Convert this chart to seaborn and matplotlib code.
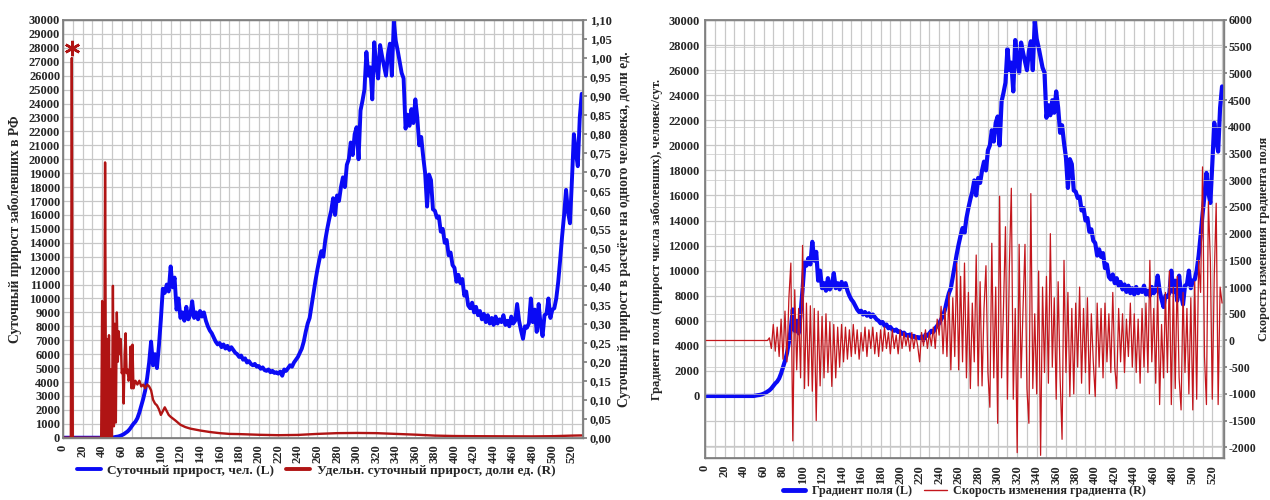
import numpy as np
import pandas as pd
import matplotlib
matplotlib.use("Agg")
import matplotlib.pyplot as plt
import seaborn as sns
from matplotlib.ticker import MultipleLocator, FuncFormatter, FixedLocator
from matplotlib.lines import Line2D

# ---------------- data ----------------
days = list(range(0, 531, 2))

daily_cases = [
    0, 0, 0, 0, 0, 0, 0, 0, 0, 0,
    0, 0, 0, 0, 0, 0, 0, 0, 0, 0,
    0, 0, 0, 0, 0, 0, 30, 60, 80, 120,
    180, 250, 350, 450, 600, 800, 1000, 1150, 1400, 1800,
    2300, 2800, 3400, 4300, 5400, 6900, 5200, 6000, 5000, 6600,
    8500, 10700, 10400, 11000, 10500, 12300, 10800, 11500, 9200, 10000,
    8600, 9000, 8400, 9400, 8500, 8800, 9800, 8600, 9000, 8500,
    9100, 8700, 9000, 8400, 8000, 7700, 7500, 7200, 6900, 6700,
    6800, 6500, 6700, 6400, 6600, 6300, 6500, 6300, 6100, 6000,
    5800, 5900, 5600, 5700, 5400, 5500, 5300, 5200, 5300, 5100,
    5150, 4950, 5050, 4850, 4800, 4900, 4700, 4800, 4650, 4700,
    4600, 4750, 4450, 4900, 4800, 5000, 5200, 5100, 5400, 5600,
    5800, 6100, 6400, 6900, 7600, 8200, 8600, 9500, 10400, 11300,
    12100, 12800, 13400, 13000, 14200, 15000, 15700, 16300, 17200, 16000,
    17400, 17000, 18000, 18700, 18000, 19600, 20000, 21200, 20300, 21800,
    22300, 20000, 23500, 24200, 25000, 27700, 26000, 26600, 24300, 28400,
    26800, 25800, 28200, 27400, 26700, 26000, 27500, 28300, 26000, 29900,
    28500, 27800, 27000, 26200, 25800, 22200, 23200, 22400, 23600, 22600,
    24300, 23000, 21000, 21600, 20200, 19000, 16600, 18900, 18500, 16400,
    16300, 15800, 15900, 14800, 15000, 14000, 14200, 13100, 13300, 12400,
    12200, 11200, 11700, 11100, 11400, 10200, 10500, 9500, 9300, 9700,
    9000, 9400, 8800, 9100, 8500, 8900, 8300, 8800, 8200, 8600,
    8100, 8700, 8200, 8500, 8300, 8800, 8100, 8400, 8000, 8700,
    8200, 8400, 9600, 8400, 7700, 7100, 8000, 7900, 8200, 10000,
    8300, 9200, 7600, 9600, 8100, 7300, 8800, 8900, 10000, 8600,
    9200, 9300, 10000, 11200, 12800, 14500, 16000, 17800, 16200, 15400,
    18500, 21800, 20500, 19500, 23000, 24700,
]

gradient_rate = [
    0, 0, 0, 0, 0, 0, 0, 0, 0, 0,
    0, 0, 0, 0, 0, 0, 0, 0, 0, 0,
    0, 0, 0, 0, 0, 0, 0, 0, 0, 0,
    0, 0, 0, 50, -150, 300, -200, 250, -300, 400,
    -350, 550, -400, 800, 1450, -1880, 950, -550, 600, -700,
    1780, -900, 700, -850, 650, -950, 600, -1500, 550, -850,
    450, -700, 500, -600, 350, -860, 300, -700, 250, -500,
    300, -400, 250, -350, 200, -300, 300, -250, 200, -350,
    150, -200, 250, -300, 200, -150, 250, -250, 150, -300,
    200, -200, 250, -150, 150, -250, 200, -150, 100, -250,
    200, -150, 150, -100, 100, -200, 150, -150, 100, -100,
    -400, 150, -100, 200, -150, 150, -100, 250, -150, 400,
    100, 640, -250, 600, -300, 900, -550, 800, -300, 1450,
    -550, 1200, -400, 1450, -700, 900, -900, 700, -400, 1600,
    -850, 1100, -850, 600, 1400, -600, -1250, 1820, -700, 1000,
    -1550, 2700, -700, 650, 2130, -1100, 1400, 2850, -1100, 600,
    -2100, 1800, -700, 600, 1800, -900, -1550, 2750, -900, 500,
    -1000, 1300, -2150, 1000, -600, 1200, -800, 2000, -500, 800,
    -1100, 1100, -700, -1850, 1500, -600, 900, -1050, 600, -1000,
    700, -500, 1000, -800, 600, -600, 800, -1000, 500, -400,
    -1050, 700, -500, 600, -700, 700, -400, 500, -600, 900,
    -500, -900, 600, -400, 500, -600, 400, -300, 700, -500,
    500, -600, 400, -800, 600, -500, 700, -600, 1500, -400,
    600, -800, 1000, -1200, 300, -700, 900, -600, 1300, -1200,
    1000, -900, 1200, -700, -1300, 900, -600, 600, -1000, 800,
    -1300, 1100, -1100, 1500, 900, 3250, -300, -1200, 2600, 1500,
    -1100, 1200, 2570, -1200, 1000, 700,
]

spec_days = [0, 8, 9, 10,
             39, 40, 41, 42, 43, 44, 45, 46, 47, 48, 49, 50, 51, 52, 53, 54, 55,
             56, 57, 58, 59, 60, 61, 62, 63, 64, 65, 66, 67, 68, 69, 70, 71, 72,
             74, 76, 78, 80, 82, 84, 86, 88, 90, 92, 94, 96, 98, 100, 102, 104,
             106, 108, 110, 115, 120, 125, 130, 140, 150, 160, 170, 180,
             200, 220, 240, 260, 280, 300, 320, 340, 360, 380, 400,
             420, 450, 480, 500, 520, 530]
spec_growth = [0, 0, 1.0, 0,
               0, 0.36, 0, 0, 0.725, 0, 0.26, 0, 0.27, 0, 0.18, 0, 0.40, 0.03, 0.30, 0.04, 0.33,
               0.20, 0.28, 0.22, 0.26, 0.17, 0.18, 0.09, 0.22, 0.275, 0.17, 0.18, 0.15, 0.16, 0.24, 0.13, 0.245, 0.13,
               0.15, 0.14, 0.15, 0.135, 0.14, 0.13, 0.14, 0.135, 0.125, 0.10, 0.09, 0.085, 0.075, 0.06, 0.07, 0.08,
               0.07, 0.06, 0.055, 0.045, 0.034, 0.028, 0.024, 0.019, 0.015, 0.012, 0.010, 0.0095,
               0.0077, 0.0066, 0.0073, 0.010, 0.012, 0.0125, 0.012, 0.010, 0.008, 0.0055, 0.0044,
               0.004, 0.0037, 0.0035, 0.004, 0.0055, 0.006]

star_day = [9]
star_value = [1.026]

left_yticks = list(range(0, 30001, 1000))
left_rticks = [round(0.05 * i, 2) for i in range(23)]
right_yticks = list(range(-4000, 30001, 2000))
right_rticks = list(range(-2000, 6001, 500))
xticks = list(range(0, 521, 20))

assert len(days) == len(daily_cases) == len(gradient_rate)
assert len(spec_days) == len(spec_growth)

# ---------------- style ----------------
sns.set_theme(style="white")
plt.rcParams['font.family'] = ['Liberation Serif', 'DejaVu Serif']
plt.rcParams['font.weight'] = 'bold'
plt.rcParams['axes.labelweight'] = 'bold'
plt.rcParams['axes.unicode_minus'] = False

BLUE = "#0A0AF5"
DRED = "#B01414"
RRED = "#C4161C"
GRID = "#C8C8C8"
SPINE = "#808080"

fig = plt.figure(figsize=(12.7, 5.0), dpi=100)

def style_x(ax, xmax):
    ax.set_xlim(0, xmax)
    ax.xaxis.set_major_locator(FixedLocator(xticks))
    ax.xaxis.set_minor_locator(MultipleLocator(10))
    ax.tick_params(axis='x', which='both', direction='out', length=3, color=SPINE,
                   labelsize=9, labelrotation=90, pad=2)
    ax.grid(True, which='both', axis='x', color=GRID, linewidth=0.9)
    for s in ax.spines.values():
        s.set_color(SPINE)
        s.set_linewidth(1.0)

comma = FuncFormatter(lambda v, p: f"{v:.2f}".replace('.', ','))

# ---------------- left chart ----------------
ax1 = fig.add_axes([63 / 1270, 1 - 437.7 / 500, (582.7 - 63) / 1270, (437.7 - 20) / 500])
ax1r = ax1.twinx()
df1 = pd.DataFrame({"day": days, "cases": daily_cases})
df2 = pd.DataFrame({"day": spec_days, "spec": spec_growth})
sns.lineplot(data=df1, x="day", y="cases", ax=ax1, color=BLUE, linewidth=2.8,
             estimator=None, legend=False)
sns.lineplot(data=df2, x="day", y="spec", ax=ax1r, color=DRED, linewidth=1.7,
             estimator=None, legend=False)
ax1r.plot(star_day, star_value, marker=(6, 2, 0), markersize=11, mew=1.8,
          color=DRED, linestyle='none')
style_x(ax1, 531)
ax1.set_ylim(0, 30000)
ax1.yaxis.set_major_locator(FixedLocator(left_yticks))
ax1.tick_params(axis='y', labelsize=9, length=0, pad=2)
ax1.grid(True, which='major', axis='y', color=GRID, linewidth=0.9)
ax1r.set_ylim(0, 1.10)
ax1r.yaxis.set_major_locator(FixedLocator(left_rticks))
ax1r.yaxis.set_major_formatter(comma)
ax1r.tick_params(axis='y', labelsize=9, direction='out', length=3, color=SPINE, pad=2)
ax1r.grid(False)
for s in ax1r.spines.values():
    s.set_color(SPINE)
ax1.set_xlabel("")
ax1.set_ylabel("Суточный прирост заболевших в РФ", fontsize=9.8, labelpad=5)
ax1r.set_xlabel("")
ax1r.set_ylabel("Суточный прирост в расчёте на одного человека, доли ед.",
                fontsize=9.8, labelpad=5)

h1 = [Line2D([], [], color=BLUE, linewidth=2.8), Line2D([], [], color=DRED, linewidth=2.8)]
fig.legend(h1, ["Суточный прирост, чел. (L)", "Удельн. суточный прирост, доли ед. (R)"],
           loc='center', bbox_to_anchor=(316 / 1270, 1 - 471 / 500), ncol=2,
           frameon=False, fontsize=9.6, handlelength=1.8, columnspacing=0.9,
           handletextpad=0.5, borderaxespad=0, borderpad=0)

# ---------------- right chart ----------------
ax2 = fig.add_axes([705 / 1270, 1 - 458 / 500, (1224 - 705) / 1270, (458 - 20) / 500])
ax2r = ax2.twinx()
df3 = pd.DataFrame({"day": days, "grad": daily_cases, "rate": gradient_rate})
sns.lineplot(data=df3, x="day", y="grad", ax=ax2, color=BLUE, linewidth=3.0,
             estimator=None, legend=False)
sns.lineplot(data=df3, x="day", y="rate", ax=ax2r, color=RRED, linewidth=0.9,
             estimator=None, legend=False)
style_x(ax2, 532)
ax2.set_ylim(-4950, 30000)
ax2.yaxis.set_major_locator(FixedLocator(right_yticks))
ax2.yaxis.set_major_formatter(FuncFormatter(lambda v, p: "" if v < 0 else f"{int(v)}"))
ax2.tick_params(axis='y', labelsize=9, length=0, pad=4)
ax2.grid(True, which='major', axis='y', color=GRID, linewidth=0.9)
ax2r.set_ylim(-2200, 6000)
ax2r.yaxis.set_major_locator(FixedLocator(right_rticks))
ax2r.tick_params(axis='y', labelsize=8.6, direction='out', length=2, color=SPINE, pad=1)
ax2r.grid(True, which='major', axis='y', color=GRID, linewidth=0.7, alpha=0.7)
for s in ax2r.spines.values():
    s.set_color(SPINE)
ax2.set_xlabel("")
ax2.set_ylabel("Градиент поля (прирост числа заболевших), человек/сут.", fontsize=9, labelpad=4)
ax2r.set_xlabel("")
ax2r.set_ylabel("Скорость изменения градиента поля", fontsize=8.8, labelpad=1.5)

h2 = [Line2D([], [], color=BLUE, linewidth=3.5), Line2D([], [], color=RRED, linewidth=1.0)]
fig.legend(h2, ["Градиент поля (L)", "Скорость изменения градиента (R)"],
           loc='center', bbox_to_anchor=(964 / 1270, 1 - 491 / 500), ncol=2,
           frameon=False, fontsize=8.7, handlelength=1.9, columnspacing=1.0,
           handletextpad=0.5, borderaxespad=0, borderpad=0)

fig.savefig("out.png", dpi=100)
